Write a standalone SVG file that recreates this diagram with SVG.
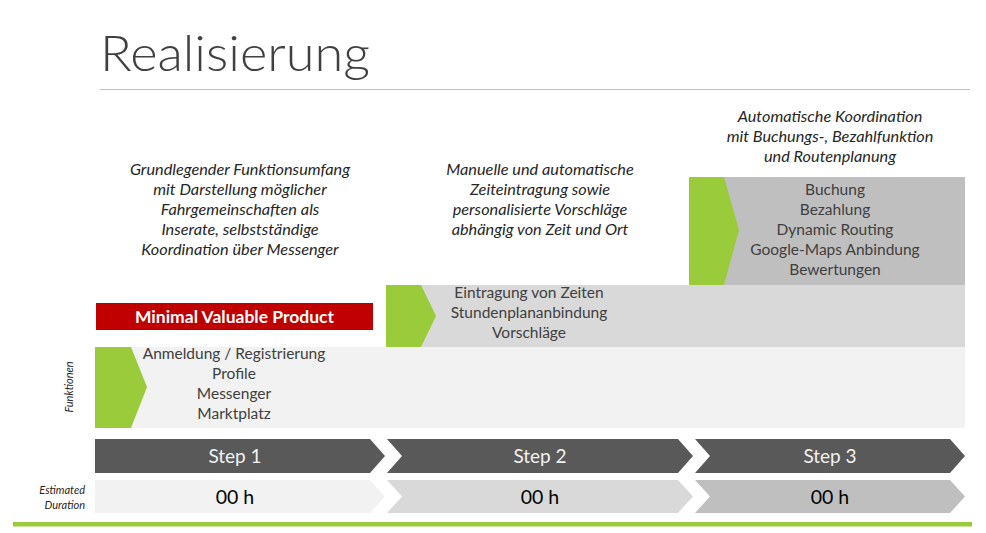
<svg xmlns="http://www.w3.org/2000/svg" width="986" height="533" viewBox="0 0 986 533">
  <style>
    .title { font-family: Lato, "Open Sans", sans-serif; font-weight: 300; font-size: 50px; fill: #404040; }
    .desc { font-family: Lato, "Open Sans", sans-serif; font-style: italic; font-size: 16.3px; fill: #262626; text-anchor: middle; }
    .feat { font-family: Lato, "Open Sans", sans-serif; font-size: 15.5px; fill: #404040; text-anchor: middle; }
    .mvp { font-family: Lato, "Open Sans", sans-serif; font-weight: bold; font-size: 17.5px; fill: #ffffff; text-anchor: middle; }
    .step { font-family: Lato, "Open Sans", sans-serif; font-size: 19px; fill: #f2f2f2; text-anchor: middle; }
    .dur { font-family: Lato, "Open Sans", sans-serif; font-size: 19.5px; fill: #000000; text-anchor: middle; }
    .side { font-family: Lato, "Open Sans", sans-serif; font-style: italic; font-size: 11px; fill: #262626; }
    .green { fill: #9acb3a; }
    .dark { fill: #595959; }
  </style>

  <!-- heading -->
  <g id="heading">
    <text class="title" x="100" y="71" textLength="270" lengthAdjust="spacingAndGlyphs">Realisierung</text>
    <line x1="100" y1="89.5" x2="970" y2="89.5" stroke="#bfbfbf" stroke-width="1.2"/>
  </g>

  <!-- phase descriptions -->
  <g id="desc-1">
    <text class="desc" x="240" y="175">Grundlegender Funktionsumfang</text>
    <text class="desc" x="240" y="195">mit Darstellung möglicher</text>
    <text class="desc" x="240" y="215">Fahrgemeinschaften als</text>
    <text class="desc" x="240" y="235">Inserate, selbstständige</text>
    <text class="desc" x="240" y="255">Koordination über Messenger</text>
  </g>
  <g id="desc-2">
    <text class="desc" x="540" y="175">Manuelle und automatische</text>
    <text class="desc" x="540" y="195">Zeiteintragung sowie</text>
    <text class="desc" x="540" y="215">personalisierte Vorschläge</text>
    <text class="desc" x="540" y="235">abhängig von Zeit und Ort</text>
  </g>
  <g id="desc-3">
    <text class="desc" x="830" y="122">Automatische Koordination</text>
    <text class="desc" x="830" y="142">mit Buchungs-, Bezahlfunktion</text>
    <text class="desc" x="830" y="162">und Routenplanung</text>
  </g>

  <!-- feature blocks -->
  <g id="features-3">
    <rect x="689" y="177" width="276" height="108" fill="#bfbfbf"/>
    <polygon class="green" points="689,177 724,177 739,230 724,285 689,285"/>
    <text class="feat" x="835" y="195">Buchung</text>
    <text class="feat" x="835" y="215">Bezahlung</text>
    <text class="feat" x="835" y="235">Dynamic Routing</text>
    <text class="feat" x="835" y="255">Google-Maps Anbindung</text>
    <text class="feat" x="835" y="275">Bewertungen</text>
  </g>
  <g id="features-2">
    <rect x="386" y="285" width="579" height="62" fill="#d9d9d9"/>
    <polygon class="green" points="386,285 421,285 436,316 421,347 386,347"/>
    <text class="feat" x="529" y="298">Eintragung von Zeiten</text>
    <text class="feat" x="529" y="318">Stundenplananbindung</text>
    <text class="feat" x="529" y="338">Vorschläge</text>
  </g>
  <g id="features-1">
    <rect x="95" y="347" width="870" height="81" fill="#f2f2f2"/>
    <polygon class="green" points="95,347 131,347 147,387 131,428 95,428"/>
    <text class="feat" x="234" y="359">Anmeldung / Registrierung</text>
    <text class="feat" x="234" y="379">Profile</text>
    <text class="feat" x="234" y="399">Messenger</text>
    <text class="feat" x="234" y="419">Marktplatz</text>
  </g>

  <g id="mvp">
    <rect x="96" y="303" width="277" height="27" fill="#c00000"/>
    <text class="mvp" x="234.5" y="322.5">Minimal Valuable Product</text>
  </g>

  <g id="label-funktionen">
    <text class="side" transform="translate(73,387) rotate(-90)" text-anchor="middle">Funktionen</text>
  </g>

  <!-- steps -->
  <g id="step-1">
    <polygon class="dark" points="95,439 370,439 385,456 370,473 95,473"/>
    <text class="step" x="235" y="463">Step 1</text>
  </g>
  <g id="step-2">
    <polygon class="dark" points="387,439 678,439 693,456 678,473 387,473 402,456"/>
    <text class="step" x="540" y="463">Step 2</text>
  </g>
  <g id="step-3">
    <polygon class="dark" points="695,439 950,439 965,456 950,473 695,473 710,456"/>
    <text class="step" x="830" y="463">Step 3</text>
  </g>

  <!-- estimated durations -->
  <g id="label-duration">
    <text class="side" x="85" y="494" text-anchor="end">Estimated</text>
    <text class="side" x="85" y="509" text-anchor="end">Duration</text>
  </g>
  <g id="duration-1">
    <polygon points="95,480 370,480 385,496.5 370,513 95,513" fill="#f2f2f2"/>
    <text class="dur" x="235" y="503.5">00 h</text>
  </g>
  <g id="duration-2">
    <polygon points="387,480 678,480 693,496.5 678,513 387,513 402,496.5" fill="#d9d9d9"/>
    <text class="dur" x="540" y="503.5">00 h</text>
  </g>
  <g id="duration-3">
    <polygon points="695,480 950,480 965,496.5 950,513 695,513 710,496.5" fill="#bfbfbf"/>
    <text class="dur" x="830" y="503.5">00 h</text>
  </g>

  <g id="connectors"></g>

  <rect id="footer-bar" x="13" y="522" width="959" height="4.5" class="green"/>
</svg>
